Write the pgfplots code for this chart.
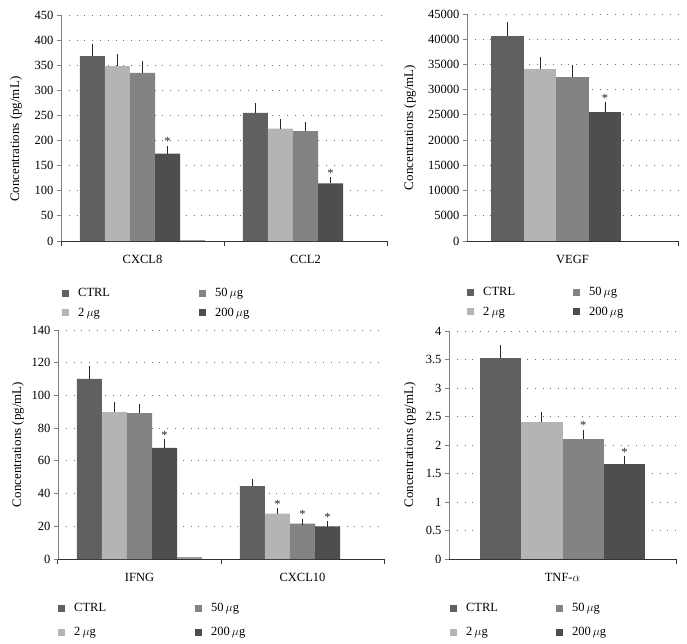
\documentclass[border=0pt]{standalone}
\usepackage{fontspec}
\setmainfont{Liberation Serif}
\usepackage{pgfplots}
\pgfplotsset{compat=1.18}
\definecolor{cctrl}{HTML}{606060}
\definecolor{ctwo}{HTML}{B4B4B4}
\definecolor{cfifty}{HTML}{838383}
\definecolor{cthree}{HTML}{4E4E4E}
\definecolor{cfive}{HTML}{9A9A9A}
\pgfplotsset{
  panel/.style={
    scale only axis, ybar, ymin=0,
    axis x line=bottom, axis y line=left,
    axis line style={-},
    x axis line style={draw=black!80, line width=1pt},
    y axis line style={draw=black!50, line width=0.8pt},
    tick align=outside,
    major tick length=4pt,
    ytick style={draw=black!50, line width=0.8pt},
    major x tick style={draw=none},
    minor x tick style={draw=black!80, line width=1pt},
    minor tick length=5pt,
    ymajorgrids,
    grid style={draw=black!55, line width=0.8pt, dash pattern=on 0.8pt off 7pt},
    tick label style={font=\fontsize{12.5}{14}\selectfont},
    xticklabel style={yshift=-7pt},
    /pgf/number format/assume math mode=true,
    ylabel={Concentrations (pg/mL)},
    legend columns=2, transpose legend, legend cell align=left,
    legend image code/.code={\fill[##1] (0pt,-3.5pt) rectangle (7pt,3.5pt);},
    legend style={draw=none, fill=none, inner sep=0pt, font=\fontsize{12.5}{14}\selectfont, anchor=north west,
      /tikz/every odd column/.append style={column sep=7pt}},
  },
  eb/.style={error bars/.cd, y dir=plus, y explicit,
    error bar style={draw=black!85, line width=0.8pt},
    error mark options={draw=black!85, line width=0.8pt, mark size=3pt}},
  ast/.style={forget plot, sharp plot, draw=none, mark=none, bar shift=0pt, nodes near coords={*},
    nodes near coords style={anchor=south, inner sep=0pt, yshift=3pt, font=\fontsize{12.5}{14}\selectfont, text=black!85}},
}
\begin{document}
\begin{tikzpicture}
\useasboundingbox (0,0) rectangle (687pt,-643pt);
% ---------- top left ----------
\begin{axis}[panel,
  at={(61pt,-241pt)}, anchor=south west, width=326pt, height=226pt,
  xmin=-0.5, xmax=1.5, ymax=450, ytick distance=50,
  bar width=0.15385,
  xtick={0,1}, xticklabels={CXCL8, CCL2}, minor xtick={-0.5,0.5,1.5},
  every axis y label/.style={at={(axis description cs:-0.138,0.45)}, rotate=90, anchor=center, font=\fontsize{13}{15}\selectfont},
  legend style={at={(axis description cs:0.003,-0.201)}, row sep=5.5pt, /tikz/every even column/.append style={column sep=87pt}},
]
\addplot[fill=cctrl, draw=none, bar shift=-0.30769, eb] coordinates {(0,368) +- (0,19) (1,255) +- (0,13)};
\addplot[fill=ctwo, draw=none, bar shift=-0.15385, eb] coordinates {(0,348) +- (0,18) (1,224) +- (0,12)};
\addplot[fill=cfifty, draw=none, bar shift=0, eb] coordinates {(0,335) +- (0,17) (1,219) +- (0,11)};
\addplot[fill=cthree, draw=none, bar shift=0.15385, eb] coordinates {(0,174) +- (0,9) (1,115) +- (0,6)};
\addplot[forget plot, fill=cfive, draw=none, bar shift=0.30769] coordinates {(0,1.5)};
\addplot[ast] coordinates {(0.15385,183) (1.15385,121)};
\legend{CTRL, 2\,$\mu$g, 50\,$\mu$g, 200\,$\mu$g}
\end{axis}
% ---------- top right ----------
\begin{axis}[panel,
  at={(467pt,-241pt)}, anchor=south west, width=211pt, height=227pt,
  xmin=-0.5, xmax=0.5, ymax=45000, ytick distance=5000,
  scaled y ticks=false,
  yticklabel style={/pgf/number format/.cd, fixed, 1000 sep={}},
  bar width=0.15385,
  xtick={0}, xticklabels={VEGF}, minor xtick={0.5},
  every axis y label/.style={at={(axis description cs:-0.270,0.5)}, rotate=90, anchor=center, font=\fontsize{13}{15}\selectfont},
  legend style={at={(axis description cs:0,-0.195)}, row sep=5.5pt, /tikz/every even column/.append style={column sep=56pt}},
]
\addplot[fill=cctrl, draw=none, bar shift=-0.30769, eb] coordinates {(0,40600) +- (0,2150)};
\addplot[fill=ctwo, draw=none, bar shift=-0.15385, eb] coordinates {(0,34000) +- (0,1800)};
\addplot[fill=cfifty, draw=none, bar shift=0, eb] coordinates {(0,32550) +- (0,1650)};
\addplot[fill=cthree, draw=none, bar shift=0.15385, eb] coordinates {(0,25500) +- (0,1400)};
\addplot[ast] coordinates {(0.15385,26900)};
\legend{CTRL, 2\,$\mu$g, 50\,$\mu$g, 200\,$\mu$g}
\end{axis}
% ---------- bottom left ----------
\begin{axis}[panel,
  at={(58pt,-559pt)}, anchor=south west, width=326pt, height=229pt,
  xmin=-0.5, xmax=1.5, ymax=140, ytick distance=20,
  bar width=0.15385,
  xtick={0,1}, xticklabels={IFNG, CXCL10}, minor xtick={-0.5,0.5,1.5},
  every axis y label/.style={at={(axis description cs:-0.1227,0.5)}, rotate=90, anchor=center, font=\fontsize{13}{15}\selectfont},
  legend style={at={(axis description cs:0,-0.1847)}, row sep=10pt, /tikz/every even column/.append style={column sep=87pt}},
]
\addplot[fill=cctrl, draw=none, bar shift=-0.30769, eb] coordinates {(0,110.2) +- (0,5.7) (1,44.5) +- (0,2.4)};
\addplot[fill=ctwo, draw=none, bar shift=-0.15385, eb] coordinates {(0,89.8) +- (0,4.5) (1,27.8) +- (0,1.3)};
\addplot[fill=cfifty, draw=none, bar shift=0, eb] coordinates {(0,89.2) +- (0,3.7) (1,21.6) +- (0,1.1)};
\addplot[fill=cthree, draw=none, bar shift=0.15385, eb] coordinates {(0,68.0) +- (0,3.4) (1,20.0) +- (0,1.2)};
\addplot[forget plot, fill=cfive, draw=none, bar shift=0.30769] coordinates {(0,1.0)};
\addplot[ast] coordinates {(0.15385,71.4) (0.84615,29.1) (1,22.7) (1.15385,21.2)};
\legend{CTRL, 2\,$\mu$g, 50\,$\mu$g, 200\,$\mu$g}
\end{axis}
% ---------- bottom right ----------
\begin{axis}[panel,
  at={(449pt,-559pt)}, anchor=south west, width=227pt, height=228pt,
  xmin=-0.5, xmax=0.5, ymax=4, ytick distance=0.5,
  bar width=0.18182,
  xtick={0}, xticklabels={TNF-$\alpha$}, minor xtick={0.5},
  every axis y label/.style={at={(axis description cs:-0.172,0.5)}, rotate=90, anchor=center, font=\fontsize{13}{15}\selectfont},
  legend style={at={(axis description cs:0.004,-0.1855)}, row sep=10pt, /tikz/every even column/.append style={column sep=56pt}},
]
\addplot[fill=cctrl, draw=none, bar shift=-0.27273, eb] coordinates {(0,3.52) +- (0,0.18)};
\addplot[fill=ctwo, draw=none, bar shift=-0.09091, eb] coordinates {(0,2.40) +- (0,0.12)};
\addplot[fill=cfifty, draw=none, bar shift=0.09091, eb] coordinates {(0,2.10) +- (0,0.11)};
\addplot[fill=cthree, draw=none, bar shift=0.27273, eb] coordinates {(0,1.66) +- (0,0.09)};
\addplot[ast] coordinates {(0.09091,2.21) (0.27273,1.75)};
\legend{CTRL, 2\,$\mu$g, 50\,$\mu$g, 200\,$\mu$g}
\end{axis}
\end{tikzpicture}
\end{document}
